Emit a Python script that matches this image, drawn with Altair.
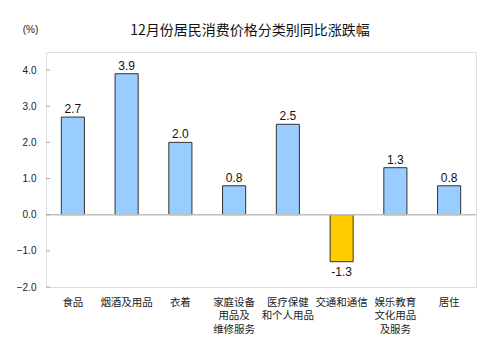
import altair as alt
import pandas as pd

categories = ["食品", "烟酒及用品", "衣着", "家庭设备\n用品及\n维修服务", "医疗保健\n和个人用品",
              "交通和通信", "娱乐教育\n文化用品\n及服务", "居住"]
values = [2.7, 3.9, 2.0, 0.8, 2.5, -1.3, 1.3, 0.8]
labels = ["2.7", "3.9", "2.0", "0.8", "2.5", "-1.3", "1.3", "0.8"]
y_ticks = [-2.0, -1.0, 0.0, 1.0, 2.0, 3.0, 4.0]

df = pd.DataFrame({"cat": categories, "value": values, "label": labels})
ticks_df = pd.DataFrame({"t": y_ticks})

CJK = "Noto Sans CJK SC"
LAT = "Liberation Sans"

x_axis = alt.Axis(title=None, labelAngle=0, domain=False, ticks=False,
                  labelExpr="split(datum.label, '\\n')",
                  labelFont=CJK, labelFontSize=10.5, labelLineHeight=13.5,
                  labelColor="#222", labelPadding=10, labelBaseline="top",
                  labelOverlap=False, labelLimit=200)
x_scale = alt.Scale(paddingInner=0.57, paddingOuter=0.285)
y_scale = alt.Scale(domain=[-2, 4.5], nice=False, zero=False)
y_axis = alt.Axis(values=y_ticks, format=".1f", title="(%)", titleAngle=0,
                  titleX=-16, titleY=-18, titleAlign="center", titleBaseline="bottom",
                  titleFont=LAT, titleFontSize=10, titleFontWeight="normal", titleColor="#222",
                  labelFont=LAT, labelFontSize=10, labelColor="#222", labelPadding=10,
                  labelOverlap=False, ticks=False, domain=False, grid=False)


def X():
    return alt.X("cat:N", sort=categories, scale=x_scale, axis=x_axis)


def Y(field):
    return alt.Y(field, scale=y_scale, axis=y_axis)


bars = alt.Chart(df).mark_bar(stroke="#333333", strokeWidth=1).encode(
    x=X(),
    y=Y("value:Q"),
    y2=alt.datum(0),
    color=alt.condition("datum.value < 0", alt.value("#FFCC00"), alt.value("#99CCFF")),
)

pos_text = alt.Chart(df).transform_filter("datum.value >= 0").mark_text(
    baseline="alphabetic", dy=-4, font=LAT, fontSize=12, color="#111"
).encode(x=X(), y=Y("value:Q"), text="label:N")

neg_text = alt.Chart(df).transform_filter("datum.value < 0").mark_text(
    baseline="top", dy=5, font=LAT, fontSize=12, color="#111"
).encode(x=X(), y=Y("value:Q"), text="label:N")

zero_rule = alt.Chart(pd.DataFrame({"z": [0.0]})).mark_rule(color="#BFBFBF", strokeWidth=1.5).encode(
    y=Y("z:Q")
)

tick_rules = alt.Chart(ticks_df).mark_rule(color="#A6A6A6", strokeWidth=1).encode(
    y=Y("t:Q"), x=alt.value(0), x2=alt.value(4)
)

chart = alt.layer(bars, zero_rule, tick_rules, pos_text, neg_text).properties(
    width=430, height=235,
    autosize=alt.AutoSizeParams(type="none"),
    padding={"left": 38, "top": 44, "right": 10, "bottom": 60},
    title=alt.TitleParams("12月份居民消费价格分类别同比涨跌幅", font=CJK, fontSize=14,
                          fontWeight="normal", color="#111", offset=0, dy=14, dx=-11,
                          anchor="middle"),
).configure_view(stroke="#BFBFBF", strokeWidth=1.5).configure(background="white")

chart.save("out.html", embed_options={"renderer": "svg", "actions": False})
